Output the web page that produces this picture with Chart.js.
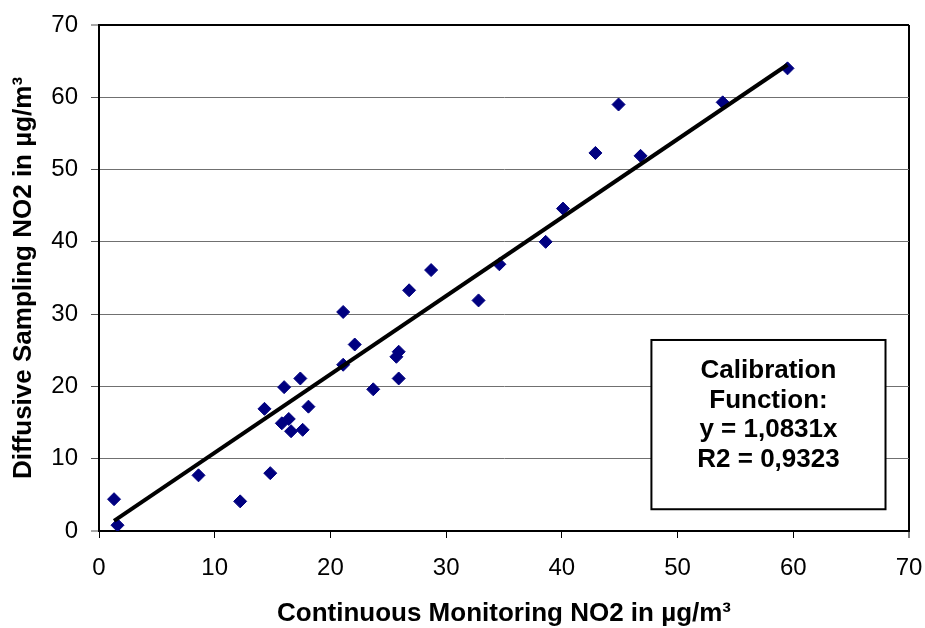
<!DOCTYPE html>
<html>
<head>
<meta charset="utf-8">
<script src="https://cdn.jsdelivr.net/npm/chart.js@4.4.0/dist/chart.umd.min.js"></script>
<style>
  body { margin: 0; background: #fff; }
</style>
</head>
<body>
<canvas id="no2Chart" width="925" height="628"></canvas>
<script>
// values (µg/m³)
const continuousNO2 = [1.3, 1.6, 8.6, 12.2, 14.8, 14.3, 16.0, 15.8, 16.4, 16.6,
  17.4, 17.6, 18.1, 21.1, 21.1, 22.1, 23.7, 25.7, 25.9, 25.9,
  26.8, 28.7, 32.8, 34.6, 38.6, 40.1, 42.9, 44.9, 46.8, 53.9, 59.5];
const diffusiveNO2 = [4.4, 0.8, 7.7, 4.1, 8.0, 16.9, 19.9, 14.9, 15.5, 13.8,
  21.1, 14.0, 17.2, 30.3, 23.0, 25.8, 19.6, 24.1, 24.8, 21.1,
  33.3, 36.1, 31.9, 36.9, 40.0, 44.6, 52.3, 59.0, 51.9, 59.3, 64.0];

// ends of the trend line
const trendX = [1.3, 59.5];
const trendY = [1.4, 64.5];

const axisTicks = [0, 10, 20, 30, 40, 50, 60, 70];
const boxLines = ['Calibration', 'Function:', 'y = 1,0831x', 'R2 = 0,9323'];
const xTitle = 'Continuous Monitoring NO2 in µg/m³';
const yTitle = 'Diffusive Sampling NO2 in µg/m³';

const fontFamily = '"Liberation Sans", Arial, sans-serif';

const points = continuousNO2.map((x, i) => ({ x: x, y: diffusiveNO2[i] }));
const trend = trendX.map((x, i) => ({ x: x, y: trendY[i] }));

// white box with the calibration function, placed relative to the plot area
const calibrationBox = {
  id: 'calibrationBox',
  afterDatasetsDraw(chart) {
    const { ctx, chartArea: a } = chart;
    const w = a.right - a.left, h = a.bottom - a.top;
    const left = a.left + w * 0.682;
    const right = a.left + w * 0.971;
    const top = a.top + h * 0.6225;
    const bottom = a.top + h * 0.957;
    ctx.save();
    ctx.fillStyle = '#fff';
    ctx.fillRect(left, top, right - left, bottom - top);
    ctx.strokeStyle = '#000';
    ctx.lineWidth = 2;
    ctx.strokeRect(left, top, right - left, bottom - top);
    ctx.fillStyle = '#000';
    ctx.font = 'bold 26px ' + fontFamily;
    ctx.textAlign = 'center';
    ctx.textBaseline = 'alphabetic';
    boxLines.forEach(function(line, i) {
      ctx.fillText(line, (left + right) / 2, top + 38.5 + i * 29.5);
    });
    ctx.restore();
  }
};

new Chart(document.getElementById('no2Chart'), {
  type: 'scatter',
  data: {
    datasets: [{
      label: 'Trend',
      data: trend,
      showLine: true,
      borderColor: '#000',
      borderWidth: 4,
      pointRadius: 0,
      order: 0
    }, {
      label: 'NO2',
      data: points,
      pointStyle: 'rectRot',
      pointRadius: 6.5,
      backgroundColor: '#000080',
      borderColor: '#000080',
      borderWidth: 1,
      order: 1
    }]
  },
  options: {
    responsive: false,
    animation: false,
    layout: { padding: { top: 25, right: 16, left: 0, bottom: 0 } },
    plugins: {
      legend: { display: false },
      tooltip: { enabled: false }
    },
    scales: {
      x: {
        type: 'linear',
        min: 0,
        max: 70,
        afterBuildTicks: function(s) { s.ticks = axisTicks.map(v => ({ value: v })); },
        afterFit: function(s) {
          s.height = 97;
          s.paddingLeft = 0;
          s.paddingRight = 0;
        },
        ticks: {
          font: { family: fontFamily, size: 24 },
          color: '#000',
          padding: 16,
          maxRotation: 0
        },
        grid: {
          drawOnChartArea: true,
          color: c => (c.tick && c.tick.value === 70) ? '#000' : 'rgba(0,0,0,0)',
          lineWidth: c => (c.tick && c.tick.value === 70) ? 2 : 1,
          tickColor: '#000',
          tickWidth: 1,
          tickLength: 7
        },
        border: { color: '#000', width: 2 },
        title: {
          display: true,
          text: xTitle,
          color: '#000',
          font: { family: fontFamily, size: 26, weight: 'bold', lineHeight: 1 },
          padding: { top: 0, bottom: 1 }
        }
      },
      y: {
        type: 'linear',
        min: 0,
        max: 70,
        afterBuildTicks: function(s) { s.ticks = axisTicks.map(v => ({ value: v })); },
        afterFit: function(s) {
          s.width = 99;
          s.paddingTop = 0;
          s.paddingBottom = 0;
        },
        ticks: {
          font: { family: fontFamily, size: 24 },
          color: '#000',
          padding: 13
        },
        grid: {
          color: c => (c.tick && (c.tick.value === 70 || c.tick.value === 0)) ? '#000' : '#707070',
          lineWidth: c => (c.tick && (c.tick.value === 70 || c.tick.value === 0)) ? 2 : 1,
          tickColor: '#505050',
          tickWidth: 1,
          tickLength: 8
        },
        border: { color: '#000', width: 2 },
        title: {
          display: true,
          text: yTitle,
          color: '#000',
          font: { family: fontFamily, size: 26, weight: 'bold', lineHeight: 1 },
          padding: { top: 11, bottom: 0 }
        }
      }
    }
  },
  plugins: [calibrationBox]
});
</script>
</body>
</html>
